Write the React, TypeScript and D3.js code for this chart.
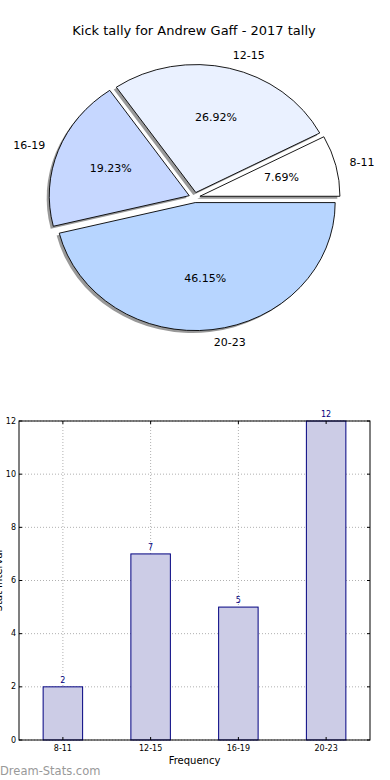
import React from "react";
import * as d3 from "d3";

const categories = ["8-11", "12-15", "16-19", "20-23"];
const counts = [2, 7, 5, 12];
const pieColors = ["#ffffff", "#eaf1ff", "#c6d7ff", "#b7d5ff"];
const yTicks = [0, 2, 4, 6, 8, 10, 12];

const W = 390;
const H = 780;
const FONT = "DejaVu Sans, sans-serif";

function PieChart() {
  const cx = 194.5, cy = 197.5, rx = 140, ry = 128, explode = 0.04;
  const total = d3.sum(counts);
  // matplotlib-style: start at 0 rad (east), counter-clockwise
  const pie = d3.pie<number>().sort(null).startAngle(0).endAngle(2 * Math.PI)(counts);
  const unitArc = d3.arc<any>().innerRadius(0).outerRadius(1);
  const wedges = pie.map((p, i) => {
    const a0 = p.startAngle, a1 = p.endAngle;
    const mid = (a0 + a1) / 2;
    const ox = cx + explode * rx * Math.cos(mid);
    const oy = cy - explode * ry * Math.sin(mid);
    const d = unitArc({ startAngle: Math.PI / 2 - a1, endAngle: Math.PI / 2 - a0 }) as string;
    return { i, mid, ox, oy, d, pct: (counts[i] / total) * 100 };
  });
  return (
    <g>
      {wedges.map((w) => (
        <path key={"s" + w.i} d={w.d}
          transform={`translate(${w.ox - 2.6},${w.oy + 2.4}) scale(${rx},${ry})`}
          fill="#7f7f7f" opacity={0.8} />
      ))}
      {wedges.map((w) => (
        <path key={"w" + w.i} d={w.d}
          transform={`translate(${w.ox},${w.oy}) scale(${rx},${ry})`}
          fill={pieColors[w.i]} stroke="#000" strokeWidth={0.9}
          vectorEffect="non-scaling-stroke" />
      ))}
      {wedges.map((w) => {
        const c = Math.cos(w.mid), s = Math.sin(w.mid);
        return (
          <g key={"l" + w.i}>
            <text x={w.ox + 1.1 * rx * c} y={w.oy - 1.1 * ry * s}
              textAnchor={c >= 0 ? "start" : "end"} dominantBaseline="central"
              fontSize={11} fontFamily={FONT} fill="#000">{categories[w.i]}</text>
            <text x={w.ox + 0.6 * rx * c} y={w.oy - 0.6 * ry * s}
              textAnchor="middle" dominantBaseline="central"
              fontSize={11} fontFamily={FONT} fill="#000">{w.pct.toFixed(2) + "%"}</text>
          </g>
        );
      })}
    </g>
  );
}

function BarChart() {
  const left = 19, right = 370, top = 421, bottom = 740;
  const x = d3.scaleLinear().domain([-0.5, categories.length - 0.5]).range([left, right]);
  const y = d3.scaleLinear().domain([0, 12]).range([bottom, top]);
  const bw = x(0.45) - x(0);
  return (
    <g>
      {categories.map((c, i) => (
        <line key={"gx" + i} x1={x(i)} x2={x(i)} y1={top} y2={bottom}
          stroke="#b0b0b0" strokeWidth={1} strokeDasharray="1,2" />
      ))}
      {yTicks.map((t) => (
        <line key={"gy" + t} x1={left} x2={right} y1={y(t)} y2={y(t)}
          stroke="#b0b0b0" strokeWidth={1} strokeDasharray="1,2" />
      ))}
      {counts.map((v, i) => (
        <g key={"b" + i}>
          <rect x={x(i) - bw / 2} y={y(v)} width={bw} height={y(0) - y(v)}
            fill="#ccccE6" stroke="#000080" strokeWidth={1} />
          <text x={x(i)} y={y(v) - 4} textAnchor="middle" fontSize={8}
            fontFamily={FONT} fill="#000080">{v}</text>
        </g>
      ))}
      {yTicks.map((t) => (
        <g key={"ty" + t}>
          <line x1={left} x2={left + 3} y1={y(t)} y2={y(t)} stroke="#000" />
          <line x1={right - 3} x2={right} y1={y(t)} y2={y(t)} stroke="#000" />
          <text x={left - 3} y={y(t)} textAnchor="end" dominantBaseline="central"
            fontSize={8} fontFamily={FONT} fill="#000">{t}</text>
        </g>
      ))}
      {categories.map((c, i) => (
        <g key={"tx" + i}>
          <line x1={x(i)} x2={x(i)} y1={bottom} y2={bottom - 3} stroke="#000" />
          <line x1={x(i)} x2={x(i)} y1={top} y2={top + 3} stroke="#000" />
          <text x={x(i)} y={bottom + 11} textAnchor="middle"
            fontSize={8} fontFamily={FONT} fill="#000">{c}</text>
        </g>
      ))}
      <rect x={left} y={top} width={right - left} height={bottom - top}
        fill="none" stroke="#000" strokeWidth={1} />
      <text x={(left + right) / 2} y={764} textAnchor="middle" fontSize={10}
        fontFamily={FONT} fill="#000">Frequency</text>
      <text transform={`translate(2,${(top + bottom) / 2}) rotate(-90)`}
        textAnchor="middle" fontSize={10} fontFamily={FONT} fill="#000">Stat Interval</text>
    </g>
  );
}

export default function App() {
  return (
    <svg width={W} height={H} style={{ position: "absolute", left: 0, top: 0, background: "#fff" }}>
      <rect width={W} height={H} fill="#fff" />
      <text x={194} y={30} textAnchor="middle" dominantBaseline="central"
        fontSize={13} fontFamily={FONT} fill="#000">Kick tally for Andrew Gaff - 2017 tally</text>
      <PieChart />
      <BarChart />
      <text x={0} y={775} fontSize={11.5} fontFamily={FONT}
        fill="#999999">Dream-Stats.com</text>
    </svg>
  );
}
